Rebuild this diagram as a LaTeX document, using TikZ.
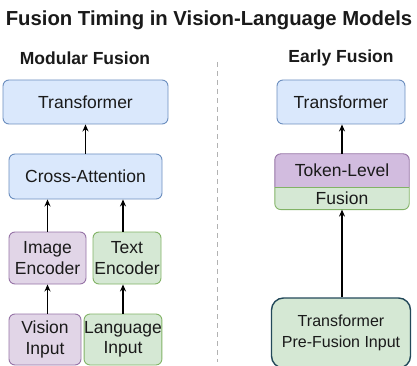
\documentclass[tikz,border=0pt]{standalone}
\usepackage{fontspec}
\setmainfont{Liberation Sans}
\usetikzlibrary{arrows.meta,backgrounds}

\definecolor{txt}{HTML}{1A1A1A}
\definecolor{bluefill}{HTML}{DAE8FC}
\definecolor{blueline}{HTML}{6C8EBF}
\definecolor{purplefill}{HTML}{E1D5E7}
\definecolor{tokfill}{HTML}{D2BCDF}
\definecolor{purpleline}{HTML}{9673A6}
\definecolor{greenfill}{HTML}{D5E8D4}
\definecolor{greenline}{HTML}{82B366}
\definecolor{preline}{HTML}{23495A}

\begin{document}
\begin{tikzpicture}[x=1pt,y=-1pt,
  box/.style={draw, rounded corners=6pt, line width=0.9pt, align=center,
    inner sep=0pt, text=txt, font=\fontsize{17.5}{20.5}\selectfont},
  bluebox/.style={box, fill=bluefill, draw=blueline},
  purplebox/.style={box, fill=purplefill, draw=purpleline},
  greenbox/.style={box, fill=greenfill, draw=greenline},
  head/.style={text=txt, font=\bfseries\fontsize{17.5}{20}\selectfont},
  arr/.style={-{Stealth[length=7pt,width=6pt]}, line width=1.3pt}]
\useasboundingbox (0,0) rectangle (417,366);

\node[text=txt, font=\bfseries\fontsize{20.3}{24}\selectfont] (title) at (209,20)
  {Fusion Timing in Vision-Language Models};
\node[head] (modhead) at (85,58) {Modular Fusion};
\node[head] (earlyhead) at (341,58) {Early Fusion};

\coordinate (sepTop) at (217,62);
\coordinate (sepBot) at (217,362);
\draw[black!30, line width=0.8pt, dash pattern=on 5pt off 4pt] (sepTop) -- (sepBot);

\node[bluebox, minimum width=165pt, minimum height=44pt] (tfl) at (85.5,102) {Transformer};
\node[bluebox, minimum width=153pt, minimum height=45pt] (cross) at (85.5,176.5) {Cross-Attention};
\node[purplebox, minimum width=77pt, minimum height=52pt] (imgenc) at (47.5,258) {Image\\Encoder};
\node[greenbox, minimum width=68pt, minimum height=52pt] (txtenc) at (127,258) {Text\\Encoder};
\node[purplebox, minimum width=72pt, minimum height=51pt] (vis) at (45,339.5) {Vision\\Input};
\node[greenbox, minimum width=76pt, minimum height=51pt] (lang) at (123,339.5) {Language\\Input};

\draw[arr] (imgenc.south |- vis.north) -- (imgenc.south);
\draw[arr] (lang.north) -- (lang.north |- txtenc.south);
\draw[arr] (imgenc.north) -- (imgenc.north |- cross.south);
\draw[arr] (txtenc.north -| lang.north) -- (lang.north |- cross.south);
\draw[arr] (cross.north) -- (cross.north |- tfl.south);

\node[bluebox, minimum width=128pt, minimum height=44pt] (tfr) at (341,102) {Transformer};
\node[text=txt, font=\fontsize{17.5}{20.5}\selectfont, inner sep=0pt,
  minimum width=134pt, minimum height=33pt] (tok) at (342,170.5) {Token-Level};
\node[text=txt, font=\fontsize{17.5}{20.5}\selectfont, inner sep=0pt,
  minimum width=134pt, minimum height=22pt, anchor=north] (fus) at (tok.south) {Fusion};
\begin{scope}[on background layer]
\filldraw[fill=tokfill, draw=purpleline, line width=0.9pt, rounded corners=6pt]
  (tok.south west) -- (tok.north west) -- (tok.north east) -- (tok.south east);
\filldraw[fill=greenfill, draw=greenline, line width=0.9pt, rounded corners=6pt]
  (fus.north west) -- (fus.south west) -- (fus.south east) -- (fus.north east);
\draw[greenline, line width=0.9pt] (fus.north west) -- (fus.north east);
\end{scope}
\node[box, fill=greenfill, draw=preline, line width=1.4pt, rounded corners=12pt,
  minimum width=139pt, minimum height=70pt, font=\fontsize{16}{20.5}\selectfont]
  (pre) at (341,333) {Transformer\\Pre-Fusion Input};

\draw[arr] (tok.north) -- (tok.north |- tfr.south);
\draw[arr] (fus.south |- pre.north) -- (fus.south);
\end{tikzpicture}
\end{document}
